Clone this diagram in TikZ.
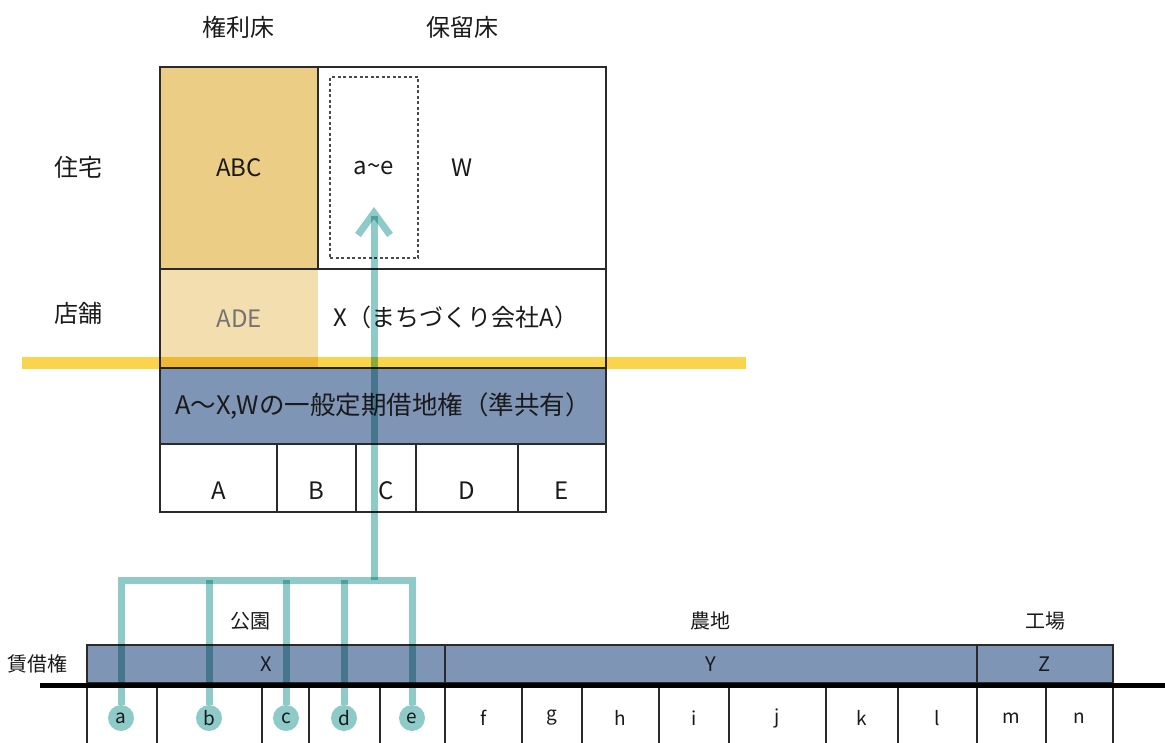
\documentclass[tikz,border=0pt]{standalone}
\usepackage{fontspec}
\setmainfont{Noto Sans CJK JP}
\usetikzlibrary{arrows.meta}
\definecolor{gold}{HTML}{EBCD85}
\definecolor{lgold}{HTML}{F2DEAE}
\definecolor{slate}{HTML}{7F95B6}
\definecolor{ylw}{HTML}{FBD44E}
\definecolor{tealc}{HTML}{8ECBC8}
\definecolor{frame}{HTML}{2A2A2A}
\definecolor{dteal}{HTML}{3F8E8C}
\definecolor{txt}{HTML}{1A1A1A}
\begin{document}
\begin{tikzpicture}[x=1pt,y=-1pt,
  big/.style={font=\fontsize{24}{28}\selectfont, text=txt},
  small/.style={font=\fontsize{20}{24}\selectfont, text=txt},
  lotfont/.style={font=\fontsize{19}{22}\selectfont, text=txt},
  cell/.style={draw=frame, line width=2.6pt, inner sep=0pt},
  lot/.style={draw=frame, line width=2pt, inner sep=0pt, minimum height=62, lotfont},
  band/.style={draw=frame, line width=2.4pt, fill=slate, inner sep=0pt, minimum height=38, small},
  pin/.style={circle, fill=tealc, inner sep=0pt, minimum size=26, text=dteal, lotfont},
  tline/.style={draw=tealc, line width=7pt},
  bottomcell/.style={cell, minimum height=68, label={[big, yshift=-13pt]center:#1}}
]
\useasboundingbox (0,0) rectangle (1165,742);

% headings
\node[big] (kenri) at (238,27) {権利床};
\node[big] (horyu) at (462,27) {保留床};
\node[big] (jutaku) at (78,167) {住宅};
\node[big] (tenpo) at (78,313) {店舗};

% upper building block
\node[fill=lgold, inner sep=0pt, minimum width=157, minimum height=98, font=\fontsize{24}{28}\selectfont, text=black!55] (ade) at (239.5,318.5) {ADE};
\node[cell, minimum width=446, minimum height=99] (shop) at (383,318.5) {};
\node[big] (xco) at (456,317) {X（まちづくり会社A）};
\node[cell, fill=gold, minimum width=158, minimum height=202, big] (abc) at (239,168) {ABC};
\node[cell, minimum width=288, minimum height=202, big] (w) at (462,168) {W};
\node[draw=frame!85, line width=1.1pt, dash pattern=on 3pt off 2.5pt, inner sep=0pt, minimum width=88, minimum height=181, big] (ae) at (374,167.5) {a\char`\~e};
\node[cell, fill=slate, minimum width=446, minimum height=76, font=\fontsize{25.5}{30}\selectfont, text=txt] (lease) at (383,406) {A〜X,Wの一般定期借地権（準共有）};

\node[bottomcell=A, minimum width=117] (A) at (218.5,478) {};
\node[bottomcell=B, minimum width=79] (B) at (316.5,478) {};
\node[bottomcell=C, minimum width=60] (C) at (386,478) {};
\node[bottomcell=D, minimum width=102] (D) at (467,478) {};
\node[bottomcell=E, minimum width=88] (E) at (562,478) {};

% yellow ground line
\begin{scope}[blend mode=multiply]
\draw[ylw, line width=12pt] (22,363) -- (746,363);
\end{scope}

% lower plots
\node[small] (koen) at (250,621) {公園};
\node[small] (nochi) at (710,621) {農地};
\node[small] (kojo) at (1045,621) {工場};
\node[font=\fontsize{20}{24}\selectfont, text=txt] (chin) at (38,664) {賃借権};

\node[band, minimum width=358] (X) at (266,664) {X};
\node[band, minimum width=532] (Y) at (711,664) {Y};
\node[band, minimum width=136] (Z) at (1045,664) {Z};

\node[lot, minimum width=70] (la) at (122,718) {};
\node[lot, minimum width=105] (lb) at (209.5,718) {};
\node[lot, minimum width=47] (lc) at (285.5,718) {};
\node[lot, minimum width=71] (ld) at (344.5,718) {};
\node[lot, minimum width=65] (le) at (412.5,718) {};
\node[lot, minimum width=77] (lf) at (483.5,718) {f};
\node[lot, minimum width=60] (lg) at (552,718) {g};
\node[lot, minimum width=77] (lh) at (620.5,718) {h};
\node[lot, minimum width=70] (li) at (694,718) {i};
\node[lot, minimum width=97] (lj) at (777.5,718) {j};
\node[lot, minimum width=72] (lk) at (862,718) {k};
\node[lot, minimum width=79] (ll) at (937.5,718) {l};
\node[lot, minimum width=69] (lm) at (1011.5,718) {m};
\node[lot, minimum width=67] (ln) at (1079.5,718) {n};

\coordinate (gl) at (40,685);
\coordinate (gr) at (1165,685);
\draw[black, line width=5pt] (gl) -- (gr);

% owners and transfer
\node[pin] (a) at (121,718) {a};
\node[pin] (b) at (209,718) {b};
\node[pin] (c) at (286,718) {c};
\node[pin] (d) at (344,718) {d};
\node[pin] (e) at (412,718) {e};
\coordinate (hub) at (374,580);
\coordinate (tip) at (374,207);

\begin{scope}[blend mode=multiply]
\draw[tline, miter limit=10] (a.north) -- (a.center |- hub) -- (e.center |- hub) -- (e.north);
\draw[tline] (b.north) -- (b.center |- hub);
\draw[tline] (c.north) -- (c.center |- hub);
\draw[tline] (d.north) -- (d.center |- hub);
\draw[tline, -{Straight Barb[length=22pt, width=32pt]}] (hub) -- (tip);
\end{scope}
\end{tikzpicture}
\end{document}
